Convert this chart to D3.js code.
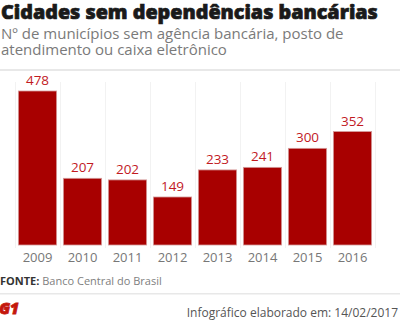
<!DOCTYPE html>
<html>
<head>
<meta charset="utf-8">
<script src="https://cdn.jsdelivr.net/npm/d3@7"></script>
<style>
  body { margin: 0; background: #fff; }
  svg { display: block; }
</style>
</head>
<body>
<div id="chart"></div>
<script>
// municipalities without any bank branch, service post or ATM
const years = ['2009', '2010', '2011', '2012', '2013', '2014', '2015', '2016'];
const cities = [478, 207, 202, 149, 233, 241, 300, 352];

const title = 'Cidades sem dependências bancárias';
const subtitle = ['Nº de municípios sem agência bancária, posto de', 'atendimento ou caixa eletrônico'];
const source = 'Banco Central do Brasil';
const credit = 'Infográfico elaborado em: 14/02/2017';

const width = 400, height = 321;

const svg = d3.select('#chart').append('svg')
    .attr('width', width)
    .attr('height', height);

// header
let t = svg.append('text')
    .attr('x', 1).attr('y', 18.5)
    .style('font-family', '"Open Sans", sans-serif')
    .style('font-weight', 800)
    .style('font-size', '20px')
    .style('fill', '#1a1a1a')
    .style('stroke', '#1a1a1a')
    .style('stroke-width', 0.7)
    .text(title);
// keep the title on one line across the header
let tw = t.node().getComputedTextLength();
if (tw > 0) t.style('font-size', Math.min(22, 20 * 377 / tw) + 'px');

svg.selectAll('.sub')
    .data(subtitle)
    .enter().append('text')
    .attr('class', 'sub')
    .attr('x', 1)
    .attr('y', (d, i) => 38.5 + i * 16)
    .style('font-family', '"Open Sans", sans-serif')
    .style('font-size', '15px')
    .style('fill', '#7a7a7a')
    .text(d => d);

svg.append('rect')
    .attr('x', 0).attr('y', 69)
    .attr('width', width).attr('height', 2)
    .style('fill', '#e8e8e8');

// scales
const x = d3.scaleBand()
    .domain(years)
    .range([15, 375])
    .paddingInner(0.15)
    .paddingOuter(0.075);

const y = d3.scaleLinear()
    .domain([0, d3.max(cities)])
    .range([245, 91]);

// light column separators
const edges = years.map(d => x(d) - x.step() * x.paddingInner() / 2);
edges.push(x(years[years.length - 1]) + x.bandwidth() + x.step() * x.paddingInner() / 2);

svg.selectAll('.sep')
    .data(edges)
    .enter().append('line')
    .attr('class', 'sep')
    .attr('x1', d => Math.round(d) + 0.5)
    .attr('x2', d => Math.round(d) + 0.5)
    .attr('y1', 82)
    .attr('y2', 248)
    .style('stroke', '#f2f2f2')
    .style('stroke-width', 1);

// bars
svg.selectAll('.bar')
    .data(cities)
    .enter().append('rect')
    .attr('class', 'bar')
    .attr('x', (d, i) => x(years[i]))
    .attr('y', d => y(d))
    .attr('width', x.bandwidth())
    .attr('height', d => y(0) - y(d))
    .style('fill', '#a80000')
    .style('stroke', '#d49a9a')
    .style('stroke-width', 0.8);

// values
svg.selectAll('.val')
    .data(cities)
    .enter().append('text')
    .attr('class', 'val')
    .attr('x', (d, i) => x(years[i]) + x.bandwidth() / 2)
    .attr('y', d => y(d) - 6)
    .attr('text-anchor', 'middle')
    .style('font-family', '"Open Sans", sans-serif')
    .style('font-size', '13.5px')
    .style('fill', '#c21a1f')
    .text(d => d);

// year axis
const xAxis = svg.append('g')
    .attr('transform', 'translate(0,245)')
    .call(d3.axisBottom(x).tickSize(0).tickPadding(8));
xAxis.select('.domain').remove();
xAxis.selectAll('text')
    .style('font-family', '"Open Sans", sans-serif')
    .style('font-size', '13px')
    .style('fill', '#777');

// footer
const src = svg.append('text')
    .attr('x', 0).attr('y', 285)
    .style('font-family', '"Open Sans", sans-serif')
    .style('font-size', '11px');
src.append('tspan')
    .style('font-weight', 700)
    .style('fill', '#333')
    .text('FONTE: ');
src.append('tspan')
    .style('fill', '#808080')
    .text(source);

svg.append('rect')
    .attr('x', 0).attr('y', 293)
    .attr('width', width).attr('height', 1.5)
    .style('fill', '#e8e8e8');

svg.append('text')
    .attr('x', -1).attr('y', 314)
    .style('font-family', '"Open Sans", sans-serif')
    .style('font-weight', 800)
    .style('font-style', 'italic')
    .style('font-size', '16px')
    .style('letter-spacing', '-0.3px')
    .style('fill', '#c4170c')
    .style('stroke', '#c4170c')
    .style('stroke-width', 0.8)
    .text('G1');

svg.append('text')
    .attr('x', 398).attr('y', 317)
    .attr('text-anchor', 'end')
    .style('font-family', '"Open Sans", sans-serif')
    .style('font-size', '12px')
    .style('fill', '#555')
    .text(credit);
</script>
</body>
</html>
